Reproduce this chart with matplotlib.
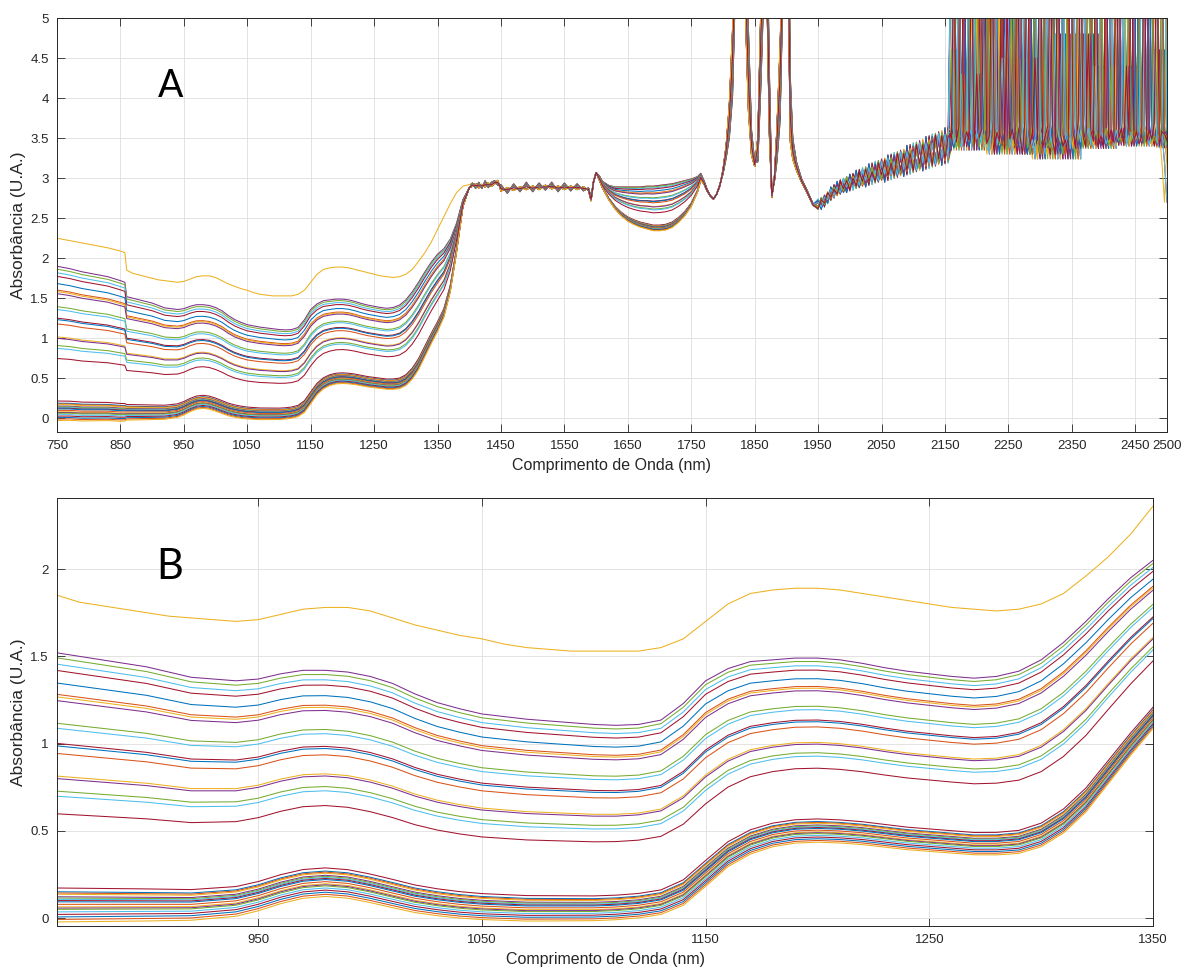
import numpy as np
import matplotlib.pyplot as plt
from matplotlib.ticker import FormatStrFormatter

# --- NIR region 750-1400 nm --------------------------------------------
wl_vis = [750, 770, 790, 810, 830, 850, 857, 860] + list(range(870, 1401, 10))

# lowest bundle of spectra (centre of the bundle)
base_vis = [0.10, 0.10, 0.09, 0.09, 0.09, 0.08, 0.08, 0.08,
            0.08, 0.08, 0.08, 0.08, 0.08, 0.08, 0.09, 0.10, 0.13, 0.17,
            0.20, 0.21, 0.20, 0.175, 0.145, 0.115, 0.095, 0.08, 0.07, 0.065,
            0.06, 0.06, 0.06, 0.06, 0.065, 0.075, 0.095, 0.15, 0.26, 0.37,
            0.44, 0.48, 0.50, 0.505, 0.50, 0.49, 0.475, 0.46, 0.45, 0.44,
            0.43, 0.43, 0.44, 0.48, 0.56, 0.68, 0.84, 1.00, 1.15, 1.32,
            1.62, 2.10, 2.65, 2.88]

# distance between the top of the middle bundle and the lowest bundle
diff_vis = [1.80, 1.77, 1.74, 1.71, 1.68, 1.64, 1.62, 1.44,
            1.42, 1.40, 1.38, 1.36, 1.33, 1.30, 1.28, 1.26, 1.24, 1.23,
            1.22, 1.21, 1.21, 1.21, 1.20, 1.17, 1.14, 1.12, 1.10, 1.09,
            1.08, 1.07, 1.06, 1.05, 1.04, 1.035, 1.04, 1.08, 1.10, 1.06,
            1.03, 1.00, 0.99, 0.985, 0.98, 0.97, 0.96, 0.955, 0.95, 0.945,
            0.945, 0.955, 0.975, 1.00, 1.02, 1.02, 0.99, 0.95, 0.90, 0.80,
            0.62, 0.34, 0.08, 0.0]

# the isolated top spectrum (yellow)
yellow_vis = [2.25, 2.22, 2.19, 2.16, 2.13, 2.09, 2.07, 1.85,
              1.81, 1.79, 1.77, 1.75, 1.73, 1.72, 1.71, 1.70, 1.71, 1.74,
              1.77, 1.78, 1.78, 1.76, 1.72, 1.68, 1.65, 1.62, 1.60, 1.57,
              1.55, 1.54, 1.53, 1.53, 1.53, 1.53, 1.55, 1.60, 1.70, 1.80,
              1.86, 1.88, 1.89, 1.89, 1.88, 1.86, 1.84, 1.82, 1.80, 1.78,
              1.77, 1.76, 1.77, 1.80, 1.86, 1.96, 2.07, 2.20, 2.36, 2.52,
              2.68, 2.82, 2.90, 2.92]

# --- plateau, 1700 nm bowl and water peaks ------------------------------
wl_mid = [1405, 1410, 1415, 1420, 1425, 1430, 1435, 1440, 1445, 1450,
          1460, 1470, 1480, 1490, 1500, 1510, 1520, 1530, 1540, 1550,
          1560, 1570, 1580, 1588, 1592, 1596, 1600, 1605, 1610, 1620,
          1630, 1640, 1650, 1660, 1670, 1680, 1690, 1700, 1710, 1720,
          1730, 1740, 1750, 1760, 1765, 1770, 1775, 1780, 1785, 1790,
          1795, 1800, 1805, 1810, 1815, 1820, 1825, 1830, 1835, 1840,
          1845, 1850, 1855, 1860, 1865, 1870, 1873, 1877, 1881, 1885,
          1890, 1895, 1900, 1903, 1906, 1910, 1916, 1924, 1932, 1942]

base_mid = [2.90, 2.93, 2.88, 2.92, 2.89, 2.94, 2.90, 2.93, 2.97, 2.84,
            2.88, 2.85, 2.89, 2.86, 2.90, 2.86, 2.91, 2.87, 2.90, 2.86,
            2.90, 2.86, 2.89, 2.85, 2.72, 2.95, 3.07, 2.98, 2.88, 2.74,
            2.63, 2.55, 2.49, 2.45, 2.42, 2.40, 2.38, 2.38, 2.39, 2.42,
            2.48, 2.56, 2.67, 2.84, 2.98, 2.93, 2.84, 2.78, 2.74, 2.80,
            2.90, 3.10, 3.40, 3.90, 4.80, 6.00, 6.50, 6.00, 5.20, 3.90,
            3.30, 3.15, 3.50, 5.20, 6.00, 5.00, 3.60, 2.76, 3.00, 3.60,
            4.60, 6.00, 6.00, 5.50, 3.50, 3.25, 3.10, 2.95, 2.83, 2.66]

diff_mid = [0.04, -0.06, 0.07, -0.05, 0.08, -0.06, 0.05, 0.04, -0.06, 0.08,
            -0.07, 0.08, -0.06, 0.09, -0.07, 0.08, -0.06, 0.08, -0.07, 0.08,
            -0.06, 0.07, -0.05, 0.03, 0.04, 0.02, 0.00, 0.05, 0.08, 0.17,
            0.26, 0.34, 0.40, 0.44, 0.47, 0.50, 0.52, 0.53, 0.53, 0.51,
            0.47, 0.41, 0.32, 0.18, 0.08, 0.04, 0.02, 0.0, 0.0, 0.0,
            0.02, -0.05, -0.15, -0.40, -0.80, -0.50, 0.0, 0.30, 0.90, 1.00,
            0.30, 0.05, -0.30, -1.00, -0.50, 0.90, 0.80, 0.05, -0.05, -0.40,
            -0.90, -0.50, 0.50, 1.20, 0.80, 0.25, 0.10, 0.04, 0.03, 0.02]

# --- 1950-2155 nm rising noisy band -------------------------------------
wl_swir = list(range(1950, 2156, 5))
base_swir = [2.67, 2.69, 2.72, 2.76, 2.80, 2.83, 2.86, 2.88, 2.90, 2.92,
             2.94, 2.95, 2.97, 2.98, 3.00, 3.01, 3.03, 3.04, 3.06, 3.07,
             3.09, 3.10, 3.12, 3.13, 3.15, 3.16, 3.18, 3.19, 3.21, 3.22,
             3.24, 3.25, 3.27, 3.28, 3.30, 3.31, 3.33, 3.34, 3.36, 3.37,
             3.39, 3.40]
jitter_swir = [0.02, -0.03, 0.04, -0.02, 0.03, -0.05, 0.04, -0.03, 0.06, -0.04,
               0.03, -0.06, 0.07, -0.03, 0.05, -0.08, 0.05, -0.07, 0.09, -0.04,
               0.10, -0.07, 0.04, -0.10, 0.11, -0.05, 0.13, -0.09, 0.06, -0.12,
               0.15, -0.08, 0.12, -0.11, 0.09, -0.15, 0.17, -0.09, 0.14, -0.13,
               0.11, -0.17, 0.20, -0.12, 0.16, -0.15, 0.13, -0.19, 0.22, -0.13,
               0.19, -0.17, 0.15, -0.21, 0.24, -0.15, 0.22]

# --- 2160-2500 nm saturated detector noise ------------------------------
wl_tail = list(range(2160, 2501, 4))
tail_noise = [3.42, 3.58, 4.6, 3.48, 3.38, 3.52, 6.0, 3.45, 3.66, 6.5,
              3.40, 3.58, 3.47, 6.0, 3.35, 4.3, 3.50, 3.62, 6.3, 3.44,
              3.53, 6.1, 3.39, 3.57, 3.46, 6.4, 3.36, 5.2, 3.49, 3.61,
              3.43, 6.2, 3.55, 3.30, 3.72, 6.6, 3.41, 3.58, 4.5, 3.47,
              6.9, 3.38, 3.52, 3.65, 6.0, 3.45, 3.30, 6.3, 3.54, 3.40,
              3.48, 3.24, 6.7, 3.56, 3.44, 3.70, 6.0, 3.51, 3.39, 4.8,
              3.59, 3.46, 6.2, 3.42, 3.53, 3.37, 6.5, 3.48, 3.60, 3.45,
              6.3, 3.50, 3.62, 3.41, 4.4, 3.54, 6.1, 3.47, 3.58, 3.43,
              3.52, 6.0, 3.46, 3.60, 3.49, 3.68, 6.2, 3.40, 3.58, 3.55,
              3.47, 3.53, 3.44, 6.1, 3.61, 3.50, 3.42, 3.56, 4.6, 3.48,
              3.38, 3.57, 3.20, 2.70, 3.45, 3.52]

# relative level of every sample between lowest bundle (0) and top of middle bundle (1)
level_high = [1.00, 0.98, 0.955, 0.93, 0.88, 0.835, 0.825, 0.81, 0.72,
              0.70, 0.64, 0.63, 0.60, 0.51, 0.50, 0.45, 0.43, 0.36]
level_low = [0.065, 0.05, 0.045, 0.04, 0.03, 0.025, 0.02, 0.015, 0.01,
             0.0, -0.01, -0.015, -0.02, -0.03, -0.04, -0.05, -0.06, -0.07]

MATLAB = ['#0072BD', '#D95319', '#EDB120', '#7E2F8E', '#77AC30', '#4DBEEE', '#A2142F']

wl = np.array(wl_vis + wl_mid + wl_swir + wl_tail, dtype=float)
n_sw = len(wl_swir)
n_tl = len(wl_tail)


def spectrum(t, k, vis=None):
    if vis is None:
        a = np.array(base_vis) + t * np.array(diff_vis)
    else:
        a = np.array(vis)
    b = np.array(base_mid) + t * np.array(diff_mid)
    j = k % 15
    c = np.array(base_swir) + np.array(jitter_swir[j:j + n_sw])
    s = (k * 7) % 20
    d = np.array(tail_noise[s:s + n_tl])
    return np.concatenate([a, b, c, d])


levels = level_low + level_high
spectra = [spectrum(1.0, 3, yellow_vis)] + [spectrum(t, i) for i, t in enumerate(levels)]
colors = ['#EDB120'] + [MATLAB[(i + 6) % 7] for i in range(len(levels))]

plt.rcParams['font.family'] = ['Liberation Sans', 'DejaVu Sans']
fig = plt.figure(figsize=(11.82, 9.73), dpi=100)
ax1 = fig.add_axes([0.0482, 0.556, 0.9391, 0.4255])
ax2 = fig.add_axes([0.0482, 0.0483, 0.9273, 0.4396])

for ax in (ax1, ax2):
    for y, c in zip(spectra, colors):
        ax.plot(wl, y, color=c, lw=0.75)
    ax.grid(True, color='#dedede', lw=0.6)
    ax.set_axisbelow(True)
    ax.tick_params(direction='in', top=True, right=True, length=6, width=0.6,
                   colors='#262626', labelsize=9.5, pad=6)
    for sp in ax.spines.values():
        sp.set_color('#262626')
        sp.set_linewidth(0.7)
    ax.yaxis.set_major_formatter(FormatStrFormatter('%g'))
    ax.set_xlabel('Comprimento de Onda (nm)', fontsize=11.5, color='#262626')
    ax.set_ylabel(u'Absorbância (U.A.)', fontsize=12.5, color='#262626', labelpad=3)

ax1.set_xlim(750, 2500)
ax1.set_ylim(-0.17, 5)
ax1.set_xticks(list(range(750, 2451, 100)) + [2500])
ax1.set_yticks(np.arange(0, 5.01, 0.5))
ax1.text(0.102, 0.836, 'A', transform=ax1.transAxes, fontsize=27,
         family='Lato', ha='center', va='center')

ax2.set_xlim(860, 1350)
ax2.set_ylim(-0.044, 2.405)
ax2.set_xticks([950, 1050, 1150, 1250, 1350])
ax2.set_yticks([0, 0.5, 1, 1.5, 2])
ax2.text(0.103, 0.839, 'B', transform=ax2.transAxes, fontsize=30,
         family='Lato', ha='center', va='center')

plt.savefig('out.png', dpi=100)
